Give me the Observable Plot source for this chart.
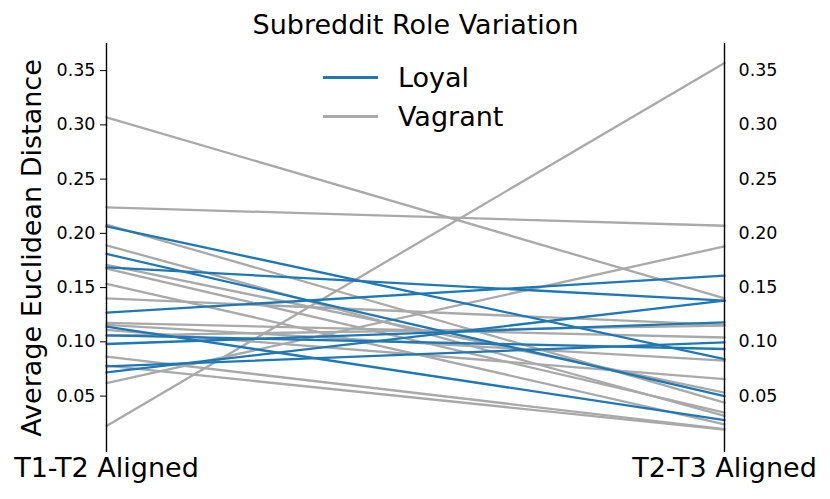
<!DOCTYPE html>
<html>
<head>
<meta charset="utf-8">
<script src="https://cdn.jsdelivr.net/npm/d3@7"></script>
<script src="https://cdn.jsdelivr.net/npm/@observablehq/plot@0.6"></script>
<style>
  body { margin: 0; background: #fff; font-family: "DejaVu Sans", sans-serif; }
  #wrap { position: relative; width: 830px; height: 499px; }
  #legend { position: absolute; left: 323px; top: 58px; font-size: 27px; color: #000; }
  #legend .row { display: flex; align-items: center; height: 39px; }
  #legend .sw { width: 55px; height: 2.3px; margin-right: 20px; }
</style>
</head>
<body>
<div id="wrap">
  <div id="legend"></div>
</div>
<script>
const stages = ["T1-T2 Aligned", "T2-T3 Aligned"];
const title = "Subreddit Role Variation";
const yLabel = "Average Euclidean Distance";
const yTicks = [0.05, 0.10, 0.15, 0.20, 0.25, 0.30, 0.35];
const yDomain = [-0.002, 0.375];

const loyalStart = [0.2065, 0.181, 0.1686, 0.127, 0.114, 0.106, 0.098, 0.0774, 0.0718];
const loyalEnd   = [0.084, 0.050, 0.138, 0.161, 0.0278, 0.0934, 0.118, 0.0996, 0.138];

const vagrantStart = [0.307, 0.224, 0.208, 0.189, 0.171, 0.1674, 0.1535, 0.140, 0.1175, 0.1156, 0.111, 0.1057, 0.0863, 0.078, 0.062, 0.0225];
const vagrantEnd   = [0.140, 0.207, 0.044, 0.0318, 0.0533, 0.0348, 0.024, 0.1156, 0.104, 0.0826, 0.0657, 0.115, 0.0195, 0.019, 0.188, 0.357];

const groups = [
  {name: "Loyal", color: "#1f77b4", start: loyalStart, end: loyalEnd},
  {name: "Vagrant", color: "#a9a9a9", start: vagrantStart, end: vagrantEnd}
];

const rows = [];
groups.forEach(g => {
  g.start.forEach((v, i) => {
    rows.push({group: g.name, id: g.name + i, stage: stages[0], value: v});
    rows.push({group: g.name, id: g.name + i, stage: stages[1], value: g.end[i]});
  });
});

const font = "DejaVu Sans";
const chart = Plot.plot({
  width: 830,
  height: 499,
  marginLeft: 106,
  marginRight: 106,
  marginTop: 43,
  marginBottom: 47,
  style: {fontFamily: font, background: "#fff", color: "#000"},
  x: {type: "point", domain: stages, padding: 0},
  y: {domain: yDomain},
  color: {domain: groups.map(g => g.name), range: groups.map(g => g.color)},
  marks: [
    Plot.lineY(rows.filter(d => d.group === "Vagrant"), {x: "stage", y: "value", z: "id", stroke: "group", strokeWidth: 2.3}),
    Plot.lineY(rows.filter(d => d.group === "Loyal"), {x: "stage", y: "value", z: "id", stroke: "group", strokeWidth: 2.3}),
    Plot.ruleX(stages, {x: d => d, y1: yDomain[0], y2: yDomain[1], stroke: "#000", strokeWidth: 1.4}),
    Plot.axisY({anchor: "left", ticks: yTicks, tickFormat: ".2f", tickSize: 6, tickPadding: 5, fontSize: 17.5, label: null, stroke: "#000"}),
    Plot.axisY({anchor: "right", ticks: yTicks, tickFormat: ".2f", tickSize: 0, tickPadding: 14, fontSize: 17.5, label: null}),
    Plot.axisX({anchor: "bottom", tickSize: 0, tickPadding: 5, fontSize: 27, label: null}),
    Plot.text([title], {frameAnchor: "top", lineAnchor: "middle", dy: -18, fontSize: 27, text: d => d}),
    Plot.text([yLabel], {frameAnchor: "left", dx: -74, rotate: -90, textAnchor: "middle", fontSize: 27, text: d => d})
  ]
});
document.getElementById("wrap").appendChild(chart);

const legend = document.getElementById("legend");
groups.forEach(g => {
  const row = document.createElement("div");
  row.className = "row";
  const sw = document.createElement("span");
  sw.className = "sw";
  sw.style.background = g.color;
  const t = document.createElement("span");
  t.textContent = g.name;
  row.appendChild(sw);
  row.appendChild(t);
  legend.appendChild(row);
});
</script>
</body>
</html>
